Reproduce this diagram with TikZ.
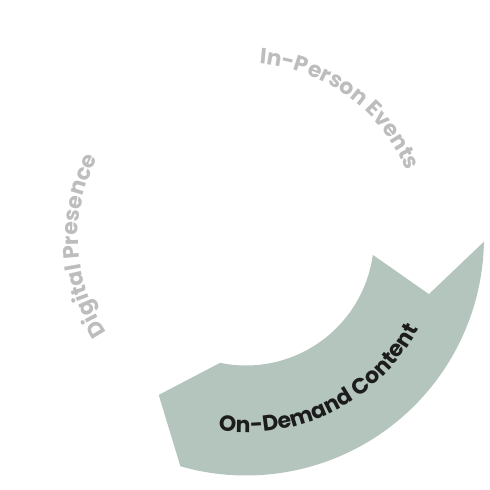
\documentclass[tikz,border=0pt]{standalone}
\usepackage{fontspec}
\setmainfont{Poppins}
\usetikzlibrary{decorations.text}
\definecolor{sage}{RGB}{180,197,189}
\definecolor{softgray}{RGB}{189,189,189}
\definecolor{inkblack}{RGB}{28,28,28}
\begin{document}
\begin{tikzpicture}[x=1pt,y=1pt,
    bandshape/.style={draw=none,fill=sage},
    arclabel/.style={decorate,decoration={text along path,text align=center,text color=#1}}]
    \useasboundingbox (-246,-252.5) rectangle (244,237.5);
    \coordinate (c) at (0,0);

    %Shape: Circular Arrow
    \draw [bandshape] (-1:238) arc[start angle=-1,end angle=-106,radius=238] -- (-119:180) -- (-101.7:128) arc[start angle=-101.7,end angle=-7.8,radius=128] -- (-17.2:191.5) -- cycle ;

    % Text Arc
    \path [arclabel=softgray,decoration={text={|\fontsize{22}{22}\selectfont\bfseries|In-Person Events}}] (110:174) arc[start angle=110,end angle=-2,radius=174] ;
    % Text Arc
    \path [arclabel=softgray,decoration={text={|\fontsize{22}{22}\selectfont\bfseries|Digital Presence}}] (241:168) arc[start angle=241,end angle=125,radius=168] ;
    % Text Arc
    \path [arclabel=inkblack,decoration={text={|\fontsize{22}{22}\selectfont\bfseries|On-Demand Content}}] (-121:195) arc[start angle=-121,end angle=-5,radius=195] ;
\end{tikzpicture}
\end{document}
